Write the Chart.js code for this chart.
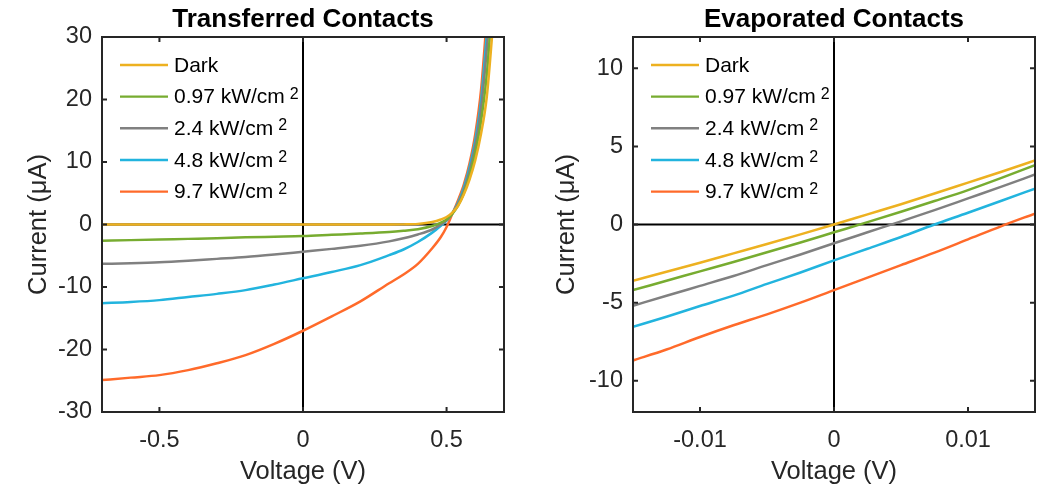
<!DOCTYPE html>
<html><head><meta charset="utf-8">
<script src="https://cdn.jsdelivr.net/npm/chart.js@4.4.0/dist/chart.umd.min.js"></script>
<style>
html,body{margin:0;padding:0;background:#fff;width:1045px;height:487px;overflow:hidden}
#c1{position:absolute;left:0;top:0}
#c2{position:absolute;left:530px;top:0}
</style></head><body>
<canvas id="c1" width="530" height="487"></canvas>
<canvas id="c2" width="515" height="487"></canvas>
<script>
// ---------- data ----------
const seriesLabels = ['Dark', '0.97 kW/cm²', '2.4 kW/cm²', '4.8 kW/cm²', '9.7 kW/cm²'];
const seriesColors = ['#EDB120', '#77AC30', '#808080', '#22B4DE', '#FF6A2A'];

// Transferred contacts (V, µA)
const vTransferred = [-0.7,-0.6,-0.5,-0.4,-0.3,-0.2,-0.1,0,0.1,0.2,0.3,0.35,0.4,0.45,0.48,0.5,0.52,0.54,0.56,0.58,0.6,0.62,0.64,0.66,0.68];
const darkT  = [0,0,0,0,0,0,0,0,0,0,0,0.02,0.1,0.4,0.8,1.2,1.9,3.0,4.8,7.2,10.3,14.5,20.4,31,42];
const p097T  = [-2.6,-2.5,-2.4,-2.3,-2.2,-2.05,-1.95,-1.85,-1.65,-1.45,-1.2,-1.0,-0.75,-0.25,0.3,0.8,1.7,3.0,5.0,7.8,11.5,16.5,24,36,48];
const p24T   = [-6.3,-6.2,-6.05,-5.8,-5.5,-5.2,-4.8,-4.35,-3.9,-3.4,-2.7,-2.2,-1.6,-0.8,0,0.7,1.8,3.3,5.4,8.5,12.6,18.5,28,40,52];
const p48T   = [-12.6,-12.4,-12.1,-11.6,-11.1,-10.5,-9.6,-8.6,-7.6,-6.5,-4.9,-4.0,-2.8,-1.3,-0.2,0.6,1.8,3.5,5.9,9.2,13.5,19.8,30.5,43,55];
const p97T   = [-24.9,-24.5,-24.1,-23.3,-22.2,-20.9,-19.1,-17.0,-14.7,-12.3,-9.4,-8.0,-6.3,-3.8,-2.0,-0.4,1.7,3.9,6.4,9.8,14.5,21.5,33,45,57];

// Evaporated contacts (V, µA)
const vEvap  = [-0.015,-0.0125,-0.01,-0.0075,-0.005,-0.0025,0,0.0025,0.005,0.0075,0.01,0.0125,0.015];
const darkE  = [-3.6,-3.02,-2.45,-1.85,-1.25,-0.63,0,0.65,1.3,1.98,2.68,3.38,4.1];
const p097E  = [-4.2,-3.6,-3.0,-2.4,-1.78,-1.15,-0.5,0.15,0.82,1.5,2.2,2.98,3.8];
const p24E   = [-5.2,-4.56,-3.93,-3.3,-2.6,-1.92,-1.2,-0.5,0.2,0.92,1.67,2.42,3.2];
const p48E   = [-6.55,-5.9,-5.22,-4.55,-3.8,-3.07,-2.3,-1.55,-0.8,0.0,0.75,1.52,2.3];
const p97E   = [-8.7,-8.0,-7.2,-6.45,-5.75,-5.0,-4.2,-3.4,-2.6,-1.8,-0.95,-0.1,0.7];

// ticks
const xTicksT = [-0.5, 0, 0.5];
const xTickLabelsT = ['-0.5', '0', '0.5'];
const yTicksT = [-30, -20, -10, 0, 10, 20, 30];
const yTickLabelsT = ['-30', '-20', '-10', '0', '10', '20', '30'];
const xTicksE = [-0.01, 0, 0.01];
const xTickLabelsE = ['-0.01', '0', '0.01'];
const yTicksE = [-10, -5, 0, 5, 10];
const yTickLabelsE = ['-10', '-5', '0', '5', '10'];

const FONT = "'Liberation Sans', Arial, Helvetica, sans-serif";
const AX = '#262626';

// ---------- drawing helpers ----------
const framePlugin = {
  id: 'frame',
  beforeDatasetsDraw(chart, args, o) {
    const {ctx, chartArea: a, scales: {x, y}} = chart;
    ctx.save();
    ctx.strokeStyle = '#000';
    ctx.lineWidth = 2;
    const x0 = x.getPixelForValue(0), y0 = y.getPixelForValue(0);
    ctx.beginPath();
    ctx.moveTo(x0, a.top); ctx.lineTo(x0, a.bottom);
    ctx.moveTo(a.left, y0); ctx.lineTo(a.right, y0);
    ctx.stroke();
    ctx.restore();
  },
  afterDatasetsDraw(chart, args, o) {
    const {ctx, chartArea: a, scales: {x, y}} = chart;
    ctx.save();
    ctx.strokeStyle = AX;
    ctx.lineWidth = 2;
    ctx.strokeRect(a.left, a.top, a.right - a.left, a.bottom - a.top);
    const tl = 5;
    ctx.beginPath();
    o.xTicks.forEach(v => {
      const p = x.getPixelForValue(v);
      ctx.moveTo(p, a.bottom); ctx.lineTo(p, a.bottom - tl);
      ctx.moveTo(p, a.top); ctx.lineTo(p, a.top + tl);
    });
    o.yTicks.forEach(v => {
      const p = y.getPixelForValue(v);
      ctx.moveTo(a.left, p); ctx.lineTo(a.left + tl, p);
      ctx.moveTo(a.right, p); ctx.lineTo(a.right - tl, p);
    });
    ctx.stroke();

    // legend
    const rowTop = a.top + 28, rowStep = 31.65;
    chart.data.datasets.forEach((ds, i) => {
      const ry = rowTop + i * rowStep;
      ctx.strokeStyle = ds.borderColor;
      ctx.lineWidth = 2.4;
      ctx.beginPath();
      ctx.moveTo(a.left + 18, ry); ctx.lineTo(a.left + 66, ry);
      ctx.stroke();
      ctx.fillStyle = '#000';
      ctx.textBaseline = 'middle';
      ctx.textAlign = 'left';
      ctx.font = '21px ' + FONT;
      let txt = ds.label, sup = '';
      if (txt.endsWith('²')) { sup = '2'; txt = txt.slice(0, -1); }
      const tx = a.left + 72;
      ctx.fillText(txt, tx, ry + 1);
      if (sup) {
        const w = ctx.measureText(txt).width;
        ctx.font = '16px ' + FONT;
        ctx.textBaseline = 'alphabetic';
        ctx.fillText(sup, tx + w + 5, ry + 2);
      }
    });
    // title
    ctx.fillStyle = '#000';
    ctx.font = 'bold 26px ' + FONT;
    ctx.textAlign = 'center';
    ctx.textBaseline = 'alphabetic';
    ctx.fillText(o.title, (a.left + a.right) / 2, 27);
    ctx.restore();
  }
};

function makeDatasets(xs, arrs) {
  return arrs.map((arr, i) => ({
    label: seriesLabels[i],
    data: xs.map((v, k) => ({x: v, y: arr[k]})),
    borderColor: seriesColors[i],
    backgroundColor: seriesColors[i],
    borderWidth: 2.5,
    pointRadius: 0,
    cubicInterpolationMode: 'monotone',
    fill: false
  }));
}

function makeChart(id, title, xs, arrs, xr, yr, xt, xtl, yt, ytl, rightPad, yWidth, yTitlePad) {
  return new Chart(document.getElementById(id), {
    type: 'line',
    data: {datasets: makeDatasets(xs, arrs)},
    plugins: [framePlugin],
    options: {
      responsive: false,
      animation: false,
      devicePixelRatio: 1,
      layout: {padding: {top: 37, right: rightPad, left: 0, bottom: 0}},
      plugins: {
        legend: {display: false},
        tooltip: {enabled: false},
        frame: {title: title, xTicks: xt, yTicks: yt}
      },
      scales: {
        x: {
          type: 'linear', min: xr[0], max: xr[1],
          grid: {display: false, drawTicks: false},
          border: {display: false},
          afterBuildTicks: s => { s.ticks = xt.map(v => ({value: v})); },
          afterFit: s => { s.height = 75; },
          ticks: {
            autoSkip: false, maxRotation: 0, padding: 14,
            color: AX, font: {family: FONT, size: 23.5},
            callback: (v, i) => xtl[xt.indexOf(v)] ?? ''
          },
          title: {display: true, text: 'Voltage (V)', color: AX,
                  font: {family: FONT, size: 25.5}, padding: {top: 0, bottom: 0}}
        },
        y: {
          type: 'linear', min: yr[0], max: yr[1],
          grid: {display: false, drawTicks: false},
          border: {display: false},
          afterBuildTicks: s => { s.ticks = yt.map(v => ({value: v})); },
          afterFit: s => { s.width = yWidth; },
          ticks: {
            autoSkip: false, padding: 10,
            color: AX, font: {family: FONT, size: 23.5},
            callback: (v, i) => ytl[yt.indexOf(v)] ?? ''
          },
          title: {display: true, text: 'Current (μA)', color: AX,
                  font: {family: FONT, size: 25.5}, padding: {top: yTitlePad, bottom: 0}}
        }
      }
    }
  });
}

makeChart('c1', 'Transferred Contacts', vTransferred, [darkT, p097T, p24T, p48T, p97T],
  [-0.7, 0.7], [-30, 30], xTicksT, xTickLabelsT, yTicksT, yTickLabelsT, 26, 102, 24);
makeChart('c2', 'Evaporated Contacts', vEvap, [darkE, p097E, p24E, p48E, p97E],
  [-0.015, 0.015], [-12, 12], xTicksE, xTickLabelsE, yTicksE, yTickLabelsE, 10, 103, 22);
</script>
</body></html>
